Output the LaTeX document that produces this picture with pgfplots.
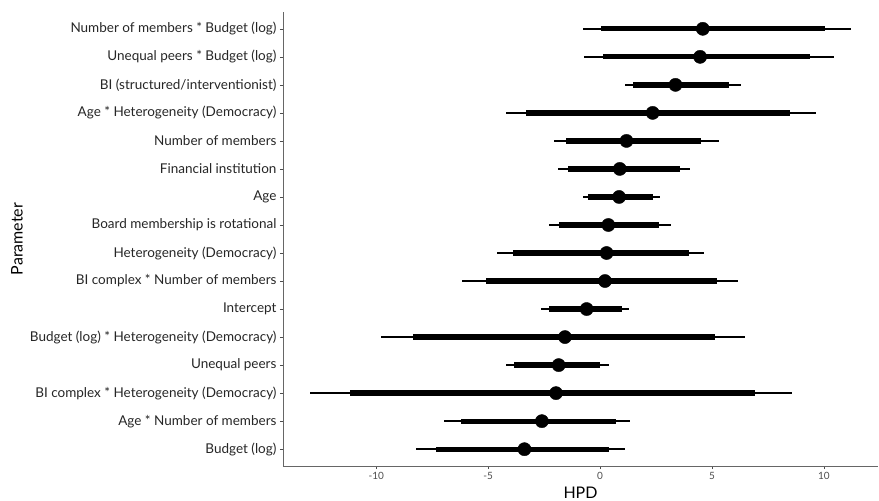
\documentclass[border=0pt]{standalone}
\usepackage{fontspec}
\setmainfont{Lato}
\usepackage{pgfplots}
\usepackage{pgfplotstable}
\pgfplotsset{compat=1.18}
\definecolor{axgray}{HTML}{4D4D4D}
\pgfplotstableread{
y m lo hi lo50 hi50
16 4.59 -0.78 11.21 0.03 10.03
15 4.47 -0.71 10.47 0.15 9.37
14 3.37 1.13 6.31 1.47 5.76
13 2.35 -4.22 9.63 -3.30 8.49
12 1.18 -2.07 5.32 -1.51 4.49
11 0.88 -1.88 4.04 -1.43 3.56
10 0.85 -0.76 2.68 -0.53 2.35
9 0.37 -2.27 3.15 -1.85 2.65
8 0.29 -4.62 4.63 -3.89 3.96
7 0.22 -6.18 6.16 -5.09 5.21
6 -0.60 -2.63 1.28 -2.29 0.96
5 -1.57 -9.79 6.46 -8.37 5.13
4 -1.85 -4.20 0.41 -3.83 -0.01
3 -1.97 -12.96 8.59 -11.17 6.94
2 -2.60 -6.97 1.32 -6.21 0.72
1 -3.38 -8.23 1.13 -7.35 0.40
}\data
\begin{document}
\begin{tikzpicture}
\begin{axis}[
  scale only axis,
  width=595pt, height=454pt,
  xmin=-14.17, xmax=12.42, ymin=0.4, ymax=16.6,
  axis lines*=left,
  axis line style={black!60, line width=0.6pt},
  tick align=outside,
  major tick length=3pt,
  tick style={black!70, line width=0.6pt},
  xtick={-10,-5,0,5,10},
  xticklabels={-10,-5,0,5,10},
  ytick={1,...,16},
  yticklabels={Budget (log), Age * Number of members, BI complex * Heterogeneity (Democracy), Unequal peers, Budget (log) * Heterogeneity (Democracy), Intercept, BI complex * Number of members, Heterogeneity (Democracy), Board membership is rotational, Age, Financial institution, Number of members, Age * Heterogeneity (Democracy), BI (structured/interventionist), Unequal peers * Budget (log), Number of members * Budget (log)},
  xticklabel style={font=\fontsize{10}{12}\selectfont, text=axgray},
  yticklabel style={font=\fontsize{13.5}{15}\selectfont, text=black!85},
  xlabel={HPD}, ylabel={Parameter},
  label style={font=\fontsize{16}{19}\selectfont},
  xlabel style={at={(axis description cs:0.5,0)}, anchor=center, yshift=-27pt},
  ylabel style={at={(axis description cs:0,0.5)}, anchor=center, yshift=266pt},
  clip=false,
]
\coordinate (ll) at (rel axis cs:0,0);
\coordinate (ur) at (rel axis cs:1,1);
\addplot[draw=none, mark=none, error bars/.cd, x dir=both, x explicit, error mark=none,
  error bar style={line width=1.7pt, black, line cap=butt}]
  table[x=m, y=y, x error minus expr=\thisrow{m}-\thisrow{lo}, x error plus expr=\thisrow{hi}-\thisrow{m}]{\data};
\addplot[draw=none, mark=none, error bars/.cd, x dir=both, x explicit, error mark=none,
  error bar style={line width=5.3pt, black, line cap=butt}]
  table[x=m, y=y, x error minus expr=\thisrow{m}-\thisrow{lo50}, x error plus expr=\thisrow{hi50}-\thisrow{m}]{\data};
\addplot[only marks, mark=*, mark size=6.6pt, mark options={fill=black, draw=none}]
  table[x=m, y=y]{\data};
\end{axis}
\pgfresetboundingbox
\path[use as bounding box] ([xshift=-283pt,yshift=-35pt]ll) rectangle ([xshift=1pt,yshift=12pt]ur);
\end{tikzpicture}
\end{document}
